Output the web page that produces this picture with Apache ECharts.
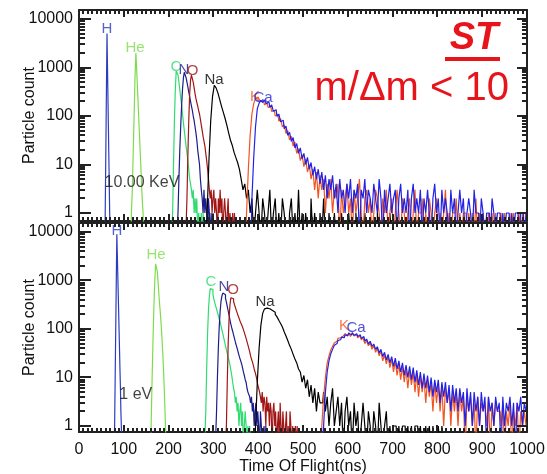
<!DOCTYPE html>
<html><head><meta charset="utf-8">
<script src="https://cdn.jsdelivr.net/npm/echarts@6/dist/echarts.min.js"></script>
<style>html,body{margin:0;padding:0;background:#fff}#c{width:547px;height:474px}</style>
</head><body><div id="c"></div>
<script>
// ---------------- DATA ----------------
const species = ['H', 'He', 'C', 'N', 'O', 'Na', 'K', 'Ca'];
// histogram bin width (ns) per species
const binWidth = [1, 2, 2, 2, 2, 4, 4, 4];
// first bin time (ns) per species
const topStart = [58, 116, 206, 218, 238, 284, 372, 384];
const botStart = [78, 160, 280, 304, 326, 392, 540, 544];

// top panel: 10.00 KeV  (particle counts per bin)
const topH = [0,1,8,70,600,5000,1200,290,70,17,4,1,0];
const topHe = [0,1,3,18,100,600,2000,800,300,110,40,15,6,2,1,0];
const topC = [0,0,1,10,80,350,850,900,700,500,350,240,170,110,75,50,35,24,17,12,8,5,4,3,2,3,1,2,1,2,0,1,1,0,1,0,1,0];
const topN = [0,0,1,5,20,60,160,350,600,800,780,620,500,400,310,250,200,160,130,100,80,60,45,32,20,14,10,5,3,2,1,3,1,2,1,0,2,1,0,1,0,1,0];
const topO = [0,0,2,15,80,280,550,700,650,500,380,290,230,190,160,130,110,85,65,50,38,30,24,17,12,8,5,3,2,3,1,2,3,1,2,1,0,2,1,3,1,2,0,1,2,1,0,1,2,0,1,1,0,1,0,1,0];
const topNa = [0,1,12,80,250,430,380,300,220,160,120,90,65,45,32,25,18,14,11,8,5,3,4,2,3,1,2,0,1,3,1,0,2,1,
  0,1,3,0,1,2,0,1,0,2, 1,0,0,1,2,0,1,0,3,0, 1,0,1,0,0,2,0,1,0,0, 1,0,2,0,0,1,0,0,1,0,
  0,0,1,0,0,0,1,0,0,0, 1,0,0,0,0,1,0,0,0,0, 0,0,1,0,0,0,0,0,0,1, 0,0,0,0,0,0];
const topK = [0,1,8,40,110,180,230,245,220,200, 205,170,185,150,160,125,130,100,108,78,
  88,60,66,44,50,32,38,24,29,17, 21,12,16,9,13,7,10,5,8,3, 7,2,6,3,5,1,4,2,5,1,
  3,2,4,0,3,1,2,4,1,2, 0,3,1,2,5,1,0,2,3,1, 2,0,1,3,2,1,0,2,1,3, 0,1,2,0,1,3,1,0,2,1,
  0,1,2,0,1,3,0,1,1,2, 0,1,0,2,1,0,1,2,0,1, 0,1,3,0,1,0,1,1,2,0, 1,0,1,1,0,1,0,1,0,2,
  0,1,0,1,0,0,1,0,1,0, 1,0,0,1,0,1,0,0,1,0, 1,0,0,1,0,1,0,1];
const topCa = [0,2,14,60,140,185,210,190,215,180, 195,150,170,125,135,98,110,76,82,55,
  62,40,46,30,36,22,27,17,22,13, 17,10,14,8,11,6,9,5,8,4, 7,3,6,2,5,3,6,2,4,1,
  5,2,3,1,4,2,5,1,3,2, 4,0,3,2,5,1,3,2,1,4, 2,1,5,2,0,3,1,2,4,1, 2,3,0,2,4,1,2,1,3,0,
  2,4,1,2,1,3,0,2,1,3, 1,0,2,4,1,2,0,3,1,2, 1,0,3,1,2,0,1,3,1,2, 0,1,2,1,0,3,1,1,0,2,
  1,0,1,1,0,2,1,0,1,1, 0,1,0,1,1,0,1,0,1,1, 0,1,1,0,1];

// bottom panel: 1 eV
const botH = [0,0,1,6,40,250,1600,9000,3600,1400,570,230,90,36,14,6,2,1,0,0];
const botHe = [0,1,8,50,250,900,2200,2400,1500,800,420,250,140,70,32,12,4,1,0];
const botC = [0,0,2,15,80,250,480,680,740,650,520,420,350,300,260,220,190,160,140,115,95,80,66,55,45,37,31,26,22,18,14,11,8,6,5,3,4,2,3,1,2,3,1,2,0,1,2,1,0,1,0,1,0];
const botN = [0,0,2,10,40,110,230,370,480,550,560,510,430,360,290,235,190,155,125,105,90,76,64,54,46,40,34,29,25,22,19,16,13,11,9,8,6,5,5,4,3,4,2,3,1,2,3,1,2,1,0,2,1,1,0,1,0,1,0];
const botO = [0,0,1,8,50,160,320,440,460,420, 370,320,280,245,215,190,170,150,135,122,
  110,97,85,74,64,55,47,40,34,28, 24,21,18,15,13,11,9,7,6,5, 4,3,5,2,4,3,1,4,2,3,
  1,3,2,0,2,3,1,2,0,1, 2,0,3,1,0,2,1,0,1,2, 0,1,0,2,1,0,1,0,0,1, 0,1,0,0,0];
const botNa = [0,1,8,40,120,210,260,270,262,250, 240,222,200,178,152,130,110,88,72,58,
  46,38,30,24,20,15,13,8,11,6, 9,4,7,3,6,2,5,3,3,5, 2,4,1,3,6,1,2,4,1,3,
  0,2,4,1,2,0,3,1,2,0, 1,3,1,0,2,1,0,2,1,0, 3,1,0,1,2,0,1,0,1,1, 0,1,0,1,1,0,1,0,1,0,
  1,1,0,1,0,0,1,0,1,0, 1,0,0,1,0,1,0,0];
const botK = [0,1,4,10,20,28,37,44,52,56, 64,66,72,70,80,74,84,70,80,72,
  76,66,72,60,66,50,58,45,52,38, 46,33,40,28,35,22,30,19,27,16, 24,13,22,11,19,9,17,8,15,6,
  14,7,13,5,12,4,11,5,10,3, 9,4,8,2,8,3,7,2,7,1, 6,3,6,1,5,2,5,1,5,2, 4,0,4,2,4,1,3,0,4,1,
  3,2,3,1,4,0,3,1,3,2, 2,1,3,0,2,1,3,0,2,1, 3,0,2,1,2,1];
const botCa = [0,1,5,13,22,31,38,46,50,58, 60,68,66,76,72,82,76,84,74,80,
  70,76,64,70,56,62,49,56,44,49, 38,43,32,38,27,33,23,30,20,27, 17,25,15,22,13,20,11,18,10,17,
  9,16,8,14,7,13,6,12,6,11, 5,10,4,9,5,9,3,8,4,8, 3,7,2,7,3,6,2,6,3,5, 1,6,2,5,1,5,2,4,1,5,
  2,4,0,4,2,3,1,4,2,3, 0,4,1,3,2,4,1,3,0,3, 2,4,1,3,2];

const topCounts = [topH, topHe, topC, topN, topO, topNa, topK, topCa];
const botCounts = [botH, botHe, botC, botN, botO, botNa, botK, botCa];

// axis tick values
const xMajor = [0, 100, 200, 300, 400, 500, 600, 700, 800, 900, 1000];
const xMinorStep = 10;
const yMajor = [1, 10, 100, 1000, 10000];
const yMinor = [2,3,4,5,6,7,8,9,20,30,40,50,60,70,80,90,200,300,400,500,600,700,800,900,2000,3000,4000,5000,6000,7000,8000,9000];
const panelTitles = ['10.00 KeV', '1 eV'];

// ---------------- STYLE / LAYOUT ----------------
const colors = ['#2c3cc0', '#7edc4c', '#2edc70', '#1c1c8c', '#a01616', '#000000', '#f05420', '#2222e6'];
const labelColors = ['#2c3cc0', '#7edc4c', '#2edc70', '#1c1c8c', '#a01616', '#000000', '#f05420', '#2424c8'];
const topLabelAt = [[62.5,6220],[125,2520],[216.5,1024],[234.4,888],[253.3,847],[301.3,552],[392.9,246],[410.7,235]];
const botLabelAt = [[84.8,10490],[171.9,3357],[294.6,931],[323.7,735],[343.8,637],[415.2,360],[591.5,115],[618.3,105]];
const titleAt = [[56, 4.2], [89, 4.4]];
const yRange = [[0.684, 15350], [0.752, 15330]];
const FONT = '"Liberation Sans", Arial, Helvetica, sans-serif';
const AX = '#222';
const FLOOR = 0.3;
const TICK = {xMajor: 7, xMinor: 4, yLeftMajor: 12, yLeftMinor: 6, yRightMajor: 10, yRightMinor: 5, w: 2};

const chart = echarts.init(document.getElementById('c'), null, {renderer: 'canvas'});

const grids = [
  {left: 79, width: 448, top: 10, height: 211, outerBoundsMode: 'none', containLabel: false},
  {left: 79, width: 448, top: 223, height: 209, outerBoundsMode: 'none', containLabel: false}
];

const xAxes = [], yAxes = [], series = [];
grids.forEach((g, gi) => {
  const showLab = gi === 1;
  xAxes.push({
    type: 'value', gridIndex: gi, position: 'bottom', min: 0, max: 1000, interval: 100,
    axisLine: {show: true, onZero: false, lineStyle: {color: AX, width: 2}},
    axisTick: {show: false}, minorTick: {show: false},
    splitLine: {show: false},
    axisLabel: {show: showLab, fontSize: 16, fontFamily: FONT, color: '#111', margin: 10,
      formatter: v => String(v)},
    name: showLab ? 'Time Of Flight(ns)' : '', nameLocation: 'middle', nameGap: 27, nameMoveOverlap: false,
    nameTextStyle: {fontSize: 16, fontFamily: FONT, color: '#111'}
  });
  xAxes.push({
    type: 'value', gridIndex: gi, position: 'top', min: 0, max: 1000, interval: 100,
    axisLine: {show: true, onZero: false, lineStyle: {color: AX, width: 2}},
    axisTick: {show: false}, minorTick: {show: false}, splitLine: {show: false}, axisLabel: {show: false}
  });
  yAxes.push({
    type: 'log', logBase: 10, gridIndex: gi, position: 'left', min: yRange[gi][0], max: yRange[gi][1],
    axisLine: {show: true, onZero: false, lineStyle: {color: AX, width: 2}},
    axisTick: {show: false}, minorTick: {show: false}, splitLine: {show: false},
    axisLabel: {show: true, customValues: yMajor, fontSize: 16, fontFamily: FONT, color: '#111', margin: 6,
      formatter: v => String(Math.round(v))},
    name: 'Particle count', nameLocation: 'middle', nameGap: 41, nameRotate: 90, nameMoveOverlap: false,
    nameTextStyle: {fontSize: 16, fontFamily: FONT, color: '#111'}
  });
  yAxes.push({
    type: 'log', logBase: 10, gridIndex: gi, position: 'right', min: yRange[gi][0], max: yRange[gi][1],
    axisLine: {show: true, onZero: false, lineStyle: {color: AX, width: 2}},
    axisTick: {show: false}, minorTick: {show: false}, splitLine: {show: false}, axisLabel: {show: false}
  });
});

function toPoints(counts, start, width) {
  return counts.map((c, i) => [start + i * width, c > 0 ? c : FLOOR]);
}

const panels = [
  {counts: topCounts, start: topStart, labels: topLabelAt},
  {counts: botCounts, start: botStart, labels: botLabelAt}
];
panels.forEach((p, gi) => {
  const xi = gi * 2, yi = gi * 2;
  p.counts.forEach((cnt, si) => {
    series.push({
      type: 'line', name: species[si] + gi, xAxisIndex: xi, yAxisIndex: yi,
      data: toPoints(cnt, p.start[si], binWidth[si]),
      step: 'middle', showSymbol: false, symbol: 'none', clip: true, silent: true,
      lineStyle: {color: colors[si], width: 1.2}, z: 2 + si, animation: false
    });
  });
  const labData = species.map((s, si) => ({
    value: p.labels[si], name: s,
    label: {color: labelColors[si]}
  }));
  series.push({
    type: 'scatter', xAxisIndex: xi, yAxisIndex: yi, symbolSize: 1, silent: true, z: 20,
    itemStyle: {color: 'rgba(0,0,0,0)'}, animation: false,
    label: {show: true, position: 'inside', formatter: d => d.name, fontSize: 15, fontFamily: FONT},
    data: labData
  });
  series.push({
    type: 'scatter', xAxisIndex: xi, yAxisIndex: yi, symbolSize: 1, silent: true, z: 20,
    itemStyle: {color: 'rgba(0,0,0,0)'}, animation: false,
    label: {show: true, position: 'right', distance: 0, formatter: d => d.name, fontSize: 16, fontFamily: FONT, color: '#111'},
    data: [{value: titleAt[gi], name: panelTitles[gi]}]
  });
});

const textGraphics = [
  {type: 'text', x: 474, y: 39, z: 50, style: {text: 'ST', font: 'italic bold 38px ' + FONT, fill: '#e8141c', align: 'center', verticalAlign: 'middle'}},
  {type: 'rect', shape: {x: 445, y: 57, width: 55, height: 4}, z: 50, style: {fill: '#e8141c'}},
  {type: 'text', x: 509, y: 89, z: 50, style: {text: 'm/Δm < 10', font: '40px ' + FONT, fill: '#e8141c', align: 'right', verticalAlign: 'middle'}}
];

chart.setOption({
  animation: false,
  backgroundColor: '#fff',
  grid: grids,
  xAxis: xAxes,
  yAxis: yAxes,
  series: series,
  graphic: textGraphics
});

// inside tick marks on all four sides, placed through the axes' own scales
const tickGraphics = [];
grids.forEach((g, gi) => {
  const xi = gi * 2, yi = gi * 2;
  const X = v => chart.convertToPixel({xAxisIndex: xi}, v);
  const Y = v => chart.convertToPixel({yAxisIndex: yi}, v);
  const xl = X(0), xr = X(1000), yb = Y(yRange[gi][0]), yt = Y(yRange[gi][1]);
  const w = TICK.w;
  const rect = (x, y, rw, rh) => tickGraphics.push({type: 'rect', z: 40, silent: true,
    shape: {x, y, width: rw, height: rh}, style: {fill: AX}});
  for (let t = xMajor[0]; t <= xMajor[xMajor.length - 1]; t += xMinorStep) {
    const px = Math.round(X(t));
    const len = xMajor.indexOf(t) >= 0 ? TICK.xMajor : TICK.xMinor;
    rect(px - w / 2, yb - len, w, len);
    rect(px - w / 2, yt, w, len);
  }
  yMajor.concat(yMinor).forEach(v => {
    const major = yMajor.indexOf(v) >= 0;
    const py = Math.round(Y(v));
    const l = major ? TICK.yLeftMajor : TICK.yLeftMinor;
    const r = major ? TICK.yRightMajor : TICK.yRightMinor;
    rect(xl, py - w / 2, l, w);
    rect(xr - r, py - w / 2, r, w);
  });
});
chart.setOption({graphic: textGraphics.concat(tickGraphics)});
</script>
</body></html>
